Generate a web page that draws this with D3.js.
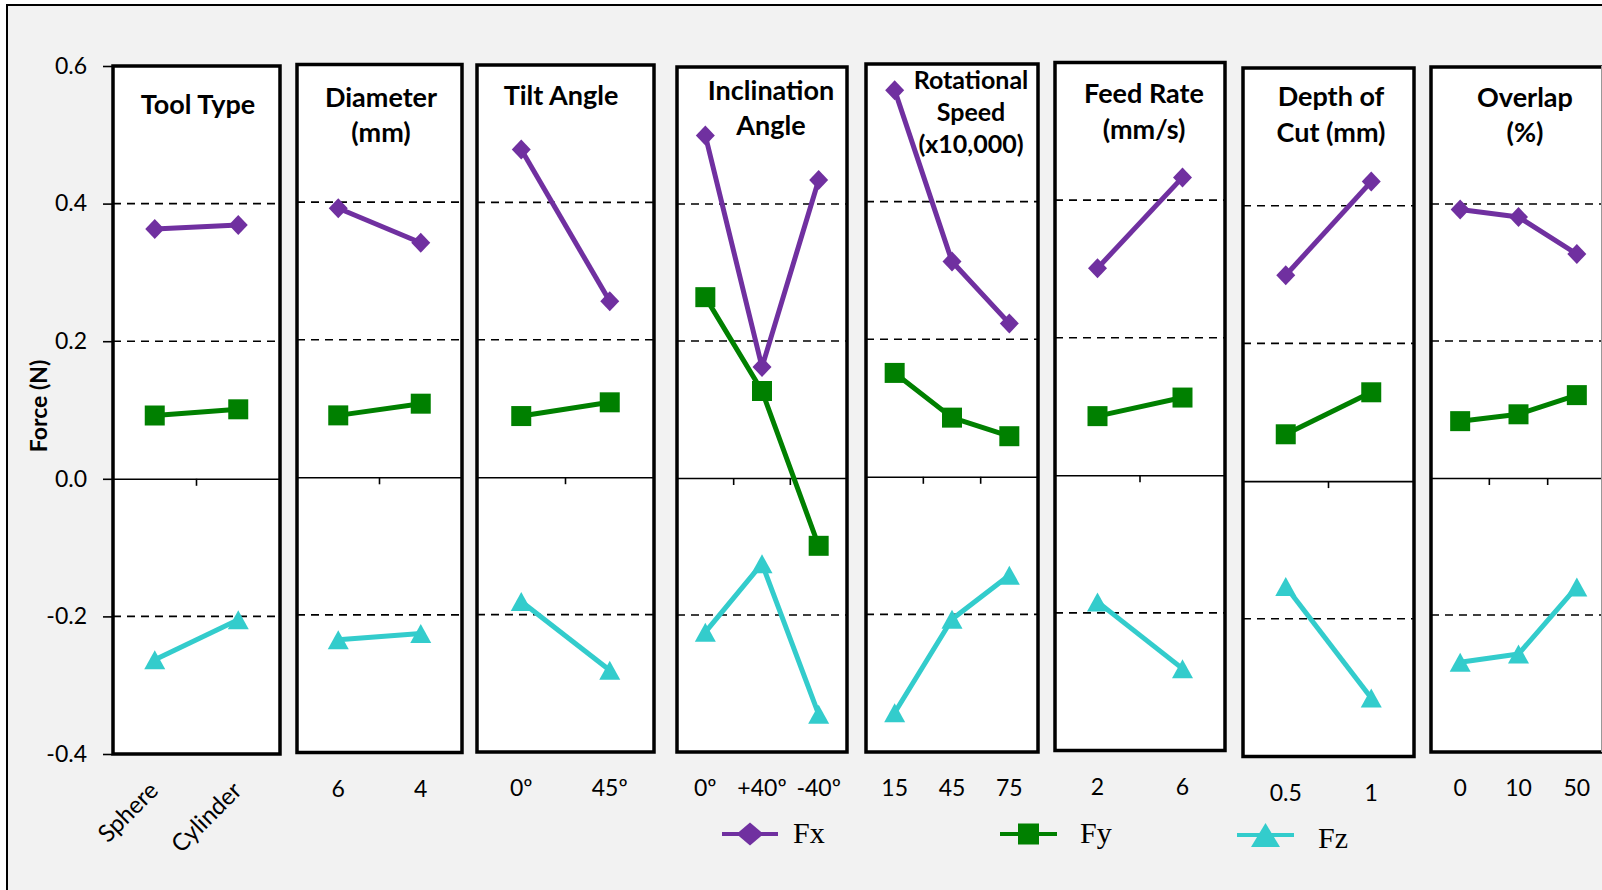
<!DOCTYPE html>
<html>
<head>
<meta charset="utf-8">
<script src="https://cdn.jsdelivr.net/npm/d3@7"></script>
<style>
  html, body { margin: 0; padding: 0; background: #ffffff; }
  svg { display: block; }
</style>
</head>
<body>
<svg id="chart" width="1602" height="890"></svg>
<script>
// Main-effect plot of machining parameters on force components (Fx, Fy, Fz)

const factorTitles = [
  ["Tool Type"],
  ["Diameter", "(mm)"],
  ["Tilt Angle"],
  ["Inclination", "Angle"],
  ["Rotational", "Speed", "(x10,000)"],
  ["Feed Rate", "(mm/s)"],
  ["Depth of", "Cut (mm)"],
  ["Overlap", "(%)"]
];

const factorLevels = [
  ["Sphere", "Cylinder"],
  ["6", "4"],
  ["0º", "45º"],
  ["0º", "+40º", "-40º"],
  ["15", "45", "75"],
  ["2", "6"],
  ["0.5", "1"],
  ["0", "10", "50"]
];

const fxMeans = [
  [0.363, 0.369],
  [0.391, 0.341],
  [0.477, 0.256],
  [0.500, 0.162, 0.435],
  [0.562, 0.313, 0.223],
  [0.301, 0.433],
  [0.299, 0.435],
  [0.392, 0.381, 0.327]
];

const fyMeans = [
  [0.092, 0.101],
  [0.090, 0.107],
  [0.089, 0.109],
  [0.264, 0.127, -0.099],
  [0.151, 0.086, 0.059],
  [0.086, 0.113],
  [0.068, 0.129],
  [0.083, 0.093, 0.121]
];

const fzMeans = [
  [-0.263, -0.205],
  [-0.236, -0.227],
  [-0.181, -0.281],
  [-0.225, -0.125, -0.345],
  [-0.343, -0.207, -0.143],
  [-0.184, -0.281],
  [-0.153, -0.315],
  [-0.269, -0.257, -0.159]
];

const yTickValues = [-0.4, -0.2, 0.0, 0.2, 0.4, 0.6];
const yTickLabels = ["-0.4", "-0.2", "0.0", "0.2", "0.4", "0.6"];
const gridValues = [-0.2, 0.2, 0.4];
const seriesNames = ["Fx", "Fy", "Fz"];

// ---- layout (panel boxes and title placement) ----
const panelBoxes = [
  { x0: 113,  x1: 280,  top: 66,   bottom: 754,   tx: 198,  ty: 114, fs: 27, gap: 35 },
  { x0: 297,  x1: 462,  top: 64.5, bottom: 752.5, tx: 381,  ty: 107, fs: 27, gap: 35 },
  { x0: 477,  x1: 654,  top: 65,   bottom: 752,   tx: 561,  ty: 105, fs: 27, gap: 35 },
  { x0: 677,  x1: 847,  top: 67,   bottom: 752,   tx: 771,  ty: 100, fs: 27, gap: 35 },
  { x0: 866,  x1: 1038, top: 64,   bottom: 752,   tx: 971,  ty: 89,  fs: 25, gap: 32 },
  { x0: 1055, x1: 1225, top: 62.5, bottom: 750.5, tx: 1144, ty: 103, fs: 27, gap: 36 },
  { x0: 1243, x1: 1414, top: 68,   bottom: 756.5, tx: 1331, ty: 106, fs: 27, gap: 36 },
  { x0: 1431, x1: 1606, top: 67,   bottom: 752,   tx: 1525, ty: 107, fs: 27, gap: 35 }
];

const colors = { Fx: "#7030a0", Fy: "#008000", Fz: "#33cccc" };
const FONT = "Lato, 'Open Sans', sans-serif";

const svg = d3.select("#chart");

// outer chart area
svg.append("rect")
  .attr("x", 7).attr("y", 5).attr("width", 1610).attr("height", 900)
  .attr("fill", "#f2f2f2").attr("stroke", "#000").attr("stroke-width", 2);

// marker shapes
function markerPath(kind, w, h) {
  const hw = w / 2, hh = h / 2;
  if (kind === "Fx") return `M0,${-hh}L${hw},0L0,${hh}L${-hw},0Z`;
  if (kind === "Fy") return `M${-hw},${-hh}H${hw}V${hh}H${-hw}Z`;
  return `M0,${-hh}L${hw},${hh}L${-hw},${hh}Z`;
}
const markerSize = { Fx: [19, 20], Fy: [20, 20], Fz: [21, 19] };

panelBoxes.forEach((box, i) => {
  const g = svg.append("g");
  const levels = factorLevels[i];

  const x = d3.scaleBand().domain(levels).range([box.x0, box.x1]).padding(0);
  const y = d3.scaleLinear().domain([-0.4, 0.6]).range([box.bottom, box.top]);

  // panel background
  g.append("rect")
    .attr("x", box.x0).attr("y", box.top)
    .attr("width", box.x1 - box.x0).attr("height", box.bottom - box.top)
    .attr("fill", "#ffffff");

  // dashed gridlines
  g.selectAll(".grid").data(gridValues).join("line")
    .attr("x1", box.x0).attr("x2", box.x1)
    .attr("y1", d => y(d)).attr("y2", d => y(d))
    .attr("stroke", "#000").attr("stroke-width", 1.6)
    .attr("stroke-dasharray", "8,6");

  // category axis on the zero line, ticks between categories
  const xAxis = d3.axisBottom(x).tickSize(0).tickFormat("");
  const axisG = g.append("g")
    .attr("transform", `translate(0,${y(0)})`)
    .call(xAxis);
  axisG.select(".domain").attr("stroke", "#000").attr("stroke-width", 1.6);
  const bounds = levels.slice(1).map(l => x(l));
  axisG.selectAll(".sep").data(bounds).join("line")
    .attr("x1", d => d).attr("x2", d => d)
    .attr("y1", 0).attr("y2", 7)
    .attr("stroke", "#000").attr("stroke-width", 1.6);

  // category labels below the panel
  const cx = l => x(l) + x.bandwidth() / 2;
  if (i === 0) {
    g.selectAll(".lvl").data(levels).join("text")
      .attr("transform", l => `translate(${cx(l) + 5},${box.bottom + 38}) rotate(-45)`)
      .attr("text-anchor", "end")
      .attr("font-family", FONT).attr("font-size", 24).attr("fill", "#000")
      .text(l => l);
  } else {
    g.selectAll(".lvl").data(levels).join("text")
      .attr("x", cx).attr("y", box.bottom + 44)
      .attr("text-anchor", "middle")
      .attr("font-family", FONT).attr("font-size", 23).attr("fill", "#000")
      .text(l => l);
  }

  // series lines and markers
  const seriesData = { Fx: fxMeans[i], Fy: fyMeans[i], Fz: fzMeans[i] };
  seriesNames.forEach(name => {
    const pts = levels.map((l, k) => ({ l, v: seriesData[name][k] }));
    const line = d3.line().x(d => cx(d.l)).y(d => y(d.v));
    g.append("path").datum(pts)
      .attr("d", line)
      .attr("fill", "none").attr("stroke", colors[name])
      .attr("stroke-width", 5).attr("stroke-linejoin", "round");
    g.selectAll(".m" + name).data(pts).join("path")
      .attr("transform", d => `translate(${cx(d.l)},${y(d.v)})`)
      .attr("d", markerPath(name, markerSize[name][0], markerSize[name][1]))
      .attr("fill", colors[name]);
  });

  // panel frame
  g.append("rect")
    .attr("x", box.x0).attr("y", box.top)
    .attr("width", box.x1 - box.x0).attr("height", box.bottom - box.top)
    .attr("fill", "none").attr("stroke", "#000").attr("stroke-width", 3.5);

  // factor title
  g.append("text")
    .attr("font-family", FONT).attr("font-weight", 700)
    .attr("font-size", box.fs).attr("fill", "#000")
    .attr("text-anchor", "middle")
    .selectAll("tspan").data(factorTitles[i]).join("tspan")
    .attr("x", box.tx)
    .attr("y", (d, k) => box.ty + k * box.gap)
    .text(d => d);

  // shared value axis on the first panel
  if (i === 0) {
    const yAxis = d3.axisLeft(y).tickValues(yTickValues)
      .tickSize(9).tickPadding(8)
      .tickFormat((d, k) => yTickLabels[k]);
    const ya = g.append("g").attr("transform", `translate(${box.x0 - 1},0)`).call(yAxis);
    ya.select(".domain").remove();
    ya.selectAll(".tick line").attr("stroke", "#000").attr("stroke-width", 1.6);
    ya.selectAll(".tick text")
      .attr("font-family", FONT).attr("font-size", 23).attr("fill", "#000")
      .attr("x", -25);
  }
});

// thin edge line at the right boundary
svg.append("line")
  .attr("x1", 1601.5).attr("x2", 1601.5).attr("y1", 66).attr("y2", 752)
  .attr("stroke", "#999").attr("stroke-width", 1);

// value axis title
svg.append("text")
  .attr("transform", "translate(38,406) rotate(-90)")
  .attr("text-anchor", "middle").attr("dominant-baseline", "central")
  .attr("font-family", FONT).attr("font-weight", 700).attr("font-size", 23)
  .text("Force (N)");

// legend
const legendItems = [
  { name: "Fx", x0: 722, x1: 778, y: 834, mw: 27, mh: 23, tx: 793, ty: 843 },
  { name: "Fy", x0: 1000, x1: 1057, y: 834, mw: 21, mh: 21, tx: 1080, ty: 843 },
  { name: "Fz", x0: 1237, x1: 1294, y: 835, mw: 29, mh: 24, tx: 1318, ty: 848 }
];
const lg = svg.append("g");
legendItems.forEach(it => {
  lg.append("line")
    .attr("x1", it.x0).attr("x2", it.x1).attr("y1", it.y).attr("y2", it.y)
    .attr("stroke", colors[it.name]).attr("stroke-width", 4);
  lg.append("path")
    .attr("transform", `translate(${(it.x0 + it.x1) / 2},${it.y})`)
    .attr("d", markerPath(it.name, it.mw, it.mh))
    .attr("fill", colors[it.name]);
  lg.append("text")
    .attr("x", it.tx).attr("y", it.ty)
    .attr("font-family", "'Liberation Serif', 'Times New Roman', serif")
    .attr("font-size", 30).attr("fill", "#000")
    .text(it.name);
});
</script>
</body>
</html>
